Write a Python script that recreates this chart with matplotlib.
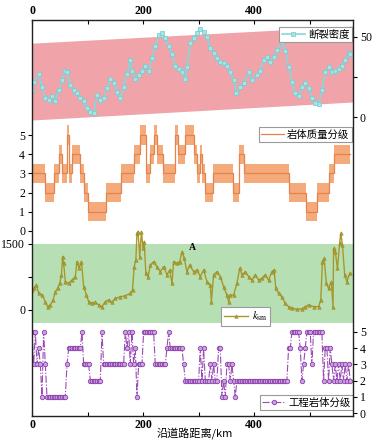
import numpy as np
import matplotlib.pyplot as plt
from matplotlib.font_manager import FontProperties

plt.rcParams['font.family'] = ['Liberation Serif', 'Noto Sans CJK SC']
plt.rcParams['mathtext.fontset'] = 'stix'

# ---- data ----
# 断裂密度 (fracture density)
fd_x = [0, 3, 12, 18, 24, 30, 36, 42, 48, 54, 60, 63, 69, 75, 81, 87, 93, 99, 105, 111,
        117, 123, 129, 135, 141, 147, 153, 159, 165, 171, 177, 180, 186, 192, 198, 204, 210, 216, 222, 228,
        234, 240, 246, 252, 258, 264, 270, 276, 279, 285, 291, 297, 303, 309, 315, 321, 327, 333, 339, 345,
        351, 357, 363, 368, 375, 381, 390, 396, 405, 411, 417, 423, 429, 435, 441, 450, 456, 462, 468, 474,
        480, 486, 492, 498, 504, 510, 516, 522, 528, 534, 540, 546, 552, 558, 564, 570, 573]
fd_y = [17, 22, 27, 19, 12, 11, 13, 10, 17, 23, 29, 28, 20, 17, 15, 12, 10, 6, 3.5, 2.5,
        14, 11, 12, 18, 24, 21, 16, 12, 19, 27, 35.5, 29, 24, 26, 29, 32, 29, 36.5, 44, 51,
        52, 49, 44, 39, 32, 30, 28, 24, 31, 46, 49, 52, 55, 53, 50, 43, 40, 36.5, 34.5, 33.5,
        32, 28, 23, 15, 19, 21, 28, 23, 26, 29, 35.5, 37.5, 34.5, 37.5, 42, 47, 41, 31, 22, 15,
        13, 19, 21, 18, 12, 9, 8, 17, 28, 31, 28, 29, 30, 32, 35.5, 40, 39]
band_x = [0, 578]
band_lo = [-1.7, 9.5]
band_hi = [46, 56.6]

# 岩体质量分级 (rock mass quality grade), step edges and levels
rq_edges = [0, 23, 39, 48, 54, 63, 67, 72, 87, 93, 100, 134, 160, 183, 194, 205, 213, 219, 225,
            235, 257, 263, 275, 291, 297, 302, 306, 312, 326, 362, 372, 381, 462, 494, 513, 534, 543, 572]
rq_level = [3, 2, 3, 4, 3, 5, 3, 4, 3, 2, 1, 2, 3, 4, 5, 3, 4, 5, 4, 3, 5, 4, 5, 4, 3, 4, 3,
            2, 3, 2, 4, 3, 2, 1, 2, 3, 4]

# k_sm
k_x = [0, 3, 8, 12, 18, 24, 28, 33, 38, 42, 46, 50, 53, 55, 57, 60, 66, 72, 78, 81,
       85, 89, 93, 98, 102, 108, 114, 120, 126, 132, 138, 144, 150, 159, 168, 177, 181, 184, 187, 189,
       191, 194, 197, 200, 202, 205, 209, 213, 219, 225, 231, 237, 243, 248, 252, 255, 261, 266, 270, 274,
       279, 284, 291, 297, 303, 309, 315, 321, 323, 327, 333, 339, 345, 351, 354, 357, 363, 369, 374, 378,
       384, 390, 396, 402, 408, 414, 420, 426, 432, 436, 439, 444, 450, 456, 462, 468, 477, 486, 492, 498,
       507, 516, 520, 523, 526, 530, 534, 539, 542, 543, 546, 550, 554, 556, 559, 563, 567, 572]
k_y = [455, 490, 570, 380, 340, 190, 75, 115, 230, 415, 490, 605, 800, 1210, 1060, 645, 605, 680, 760, 1100,
       950, 1100, 530, 340, 190, 150, 175, 115, 75, 190, 230, 175, 265, 300, 325, 380, 455, 985, 1135, 1745,
       1780, 1210, 1780, 1400, 1550, 835, 760, 1020, 1100, 985, 870, 985, 800, 910, 605, 1100, 1060, 1100, 1325, 1175,
       870, 1020, 870, 910, 760, 910, 645, 570, 190, 800, 870, 760, 530, 340, 190, 340, 340, 605, 950, 800,
       870, 760, 680, 800, 680, 720, 800, 680, 870, 910, 490, 380, 300, 150, 75, 40, 15, 25, 75, 115,
       75, 75, 230, 1100, 1175, 605, 490, 645, 75, 1400, 1325, 950, 1515, 1745, 1475, 800, 645, 835]

# 工程岩体分级 (engineering rock grade), one sample every 3 km
eg_step = 3
eg_grade = [int(c) for c in (
    "535343" "153" "111111111111" "3" "44444444" "5" "3333" "2222222" "5"
    "3333333333333" "5453534" "1" "333" "5555555" "3333333" "4" "5" "44444444" "3"
    "222222222" "42422232322" "441213323212" "222222222222222222222222222222"
    "44" "55555" "4" "2" "3" "4" "55535" "55555" "24424" "323232323232")]

# ---- figure ----
W, H = 386, 442
fig = plt.figure(figsize=(W / 100, H / 100), dpi=100)
fig.patch.set_facecolor('white')
left, right, top, bot = 32, 353, 20, 416
rect = [left / W, 1 - bot / H, (right - left) / W, (bot - top) / H]
XMAX = 578


def panel(name, p0, scale):
    # p0: pixel row of value 0, scale: pixels per unit
    ax = fig.add_axes(rect, label=name)
    ax.set_xlim(0, XMAX)
    ax.set_ylim((p0 - bot) / scale, (p0 - top) / scale)
    ax.patch.set_visible(False)
    for s in ax.spines.values():
        s.set_visible(False)
    ax.set_xticks([])
    ax.tick_params(axis='y', direction='out', length=3, width=0.8, labelsize=8.5, pad=2)
    return ax


cjk = FontProperties(family=['Noto Sans CJK SC', 'DejaVu Sans'], size=7.5)
legkw = dict(bbox_transform=fig.transFigure, frameon=True, fancybox=False, borderpad=0.25,
             handlelength=2.2, handletextpad=0.3, borderaxespad=0, framealpha=1)

# panel 1
ax1 = panel('p1', 117.3, 1.612)
ax1.fill_between(band_x, band_lo, band_hi, color='#f0a4aa', lw=0)
ax1.plot(fd_x, fd_y, color='#86d6da', lw=1.2, marker='s', ms=2.2, mfc='#a8e2e4', mec='#6ccdd2', mew=0.5,
         label='断裂密度')
ax1.yaxis.tick_right()
ax1.set_yticks([0, 25, 50], ['0', '', '50'])
l1 = ax1.legend(loc='upper right', bbox_to_anchor=(352 / W, 1 - 27 / H), prop=cjk, **legkw)
l1.get_frame().set_edgecolor('#9a9a9a')
l1.get_frame().set_linewidth(0.8)

# panel 2
ax2 = panel('p2', 231, 19.2)
rq_y = np.array(rq_level + [rq_level[-1]], dtype=float)
ax2.fill_between(rq_edges, rq_y - 0.5, rq_y + 0.5, step='post', color='#f4aa7a', lw=0)
ax2.plot(rq_edges, rq_y, drawstyle='steps-post', color='#e4844c', lw=0.9, label='岩体质量分级')
ax2.set_yticks(range(6))
l2 = ax2.legend(loc='upper right', bbox_to_anchor=(352 / W, 1 - 127 / H), prop=cjk, **legkw)
l2.get_frame().set_edgecolor('#9a9a9a')
l2.get_frame().set_linewidth(0.8)

# panel 3
ax3 = panel('p3', 310, 0.044)
ax3.fill_between([0, XMAX], [-300, -300], [1500, 1500], color='#b6e0b4', lw=0)
ax3.plot(k_x, k_y, color='#a8982c', lw=1.0, marker='^', ms=2.5, mfc='#b0a030', mec='#968a25', mew=0.4,
         label=r'$k_{\rm sm}$')
ax3.text(288, 1420, 'A', ha='center', va='center', fontsize=7, fontweight='bold')
ax3.set_yticks([0, 750, 1500], ['0', '', '1500'])
l3 = ax3.legend(loc='upper left', bbox_to_anchor=(221 / W, 1 - 307 / H), fontsize=8, **legkw)
l3.get_frame().set_edgecolor('#9a9a9a')
l3.get_frame().set_linewidth(0.8)

# panel 4
ax4 = panel('p4', 413, 16.2)
eg_x = np.arange(len(eg_grade)) * eg_step
ax4.plot(eg_x, eg_grade, color='#9a4cb6', lw=0.8, ls='-.', marker='o', ms=3.2, mfc='#caa2dc',
         mec='#8d3fae', mew=0.6, label='工程岩体分级')
ax4.yaxis.tick_right()
ax4.set_yticks(range(6))
l4 = ax4.legend(loc='lower right', bbox_to_anchor=(353 / W, 1 - 410 / H), prop=cjk, **legkw)
l4.get_frame().set_edgecolor('#9a9a9a')
l4.get_frame().set_linewidth(0.8)

# outer frame with top and bottom distance ticks
ax0 = fig.add_axes(rect, label='frame')
ax0.patch.set_visible(False)
ax0.set_xlim(0, XMAX)
ax0.set_ylim(0, 1)
ax0.set_yticks([])
ax0.set_xticks([0, 200, 400])
ax0.set_xticks([100, 300, 500], minor=True)
ax0.tick_params(axis='x', which='both', direction='in', top=True, bottom=True,
                labeltop=True, labelbottom=True, length=3, width=0.8, labelsize=8.5, pad=2.5)
for lab in ax0.get_xticklabels():
    lab.set_fontweight('bold')
for s in ax0.spines.values():
    s.set_linewidth(1.0)
    s.set_color('#222222')
fig.text(195 / W, 1 - 433 / H, '沿道路距离/km', ha='center', va='center',
         family=['Noto Sans CJK SC', 'DejaVu Sans'], fontsize=8)

fig.savefig('out.png', dpi=100)
